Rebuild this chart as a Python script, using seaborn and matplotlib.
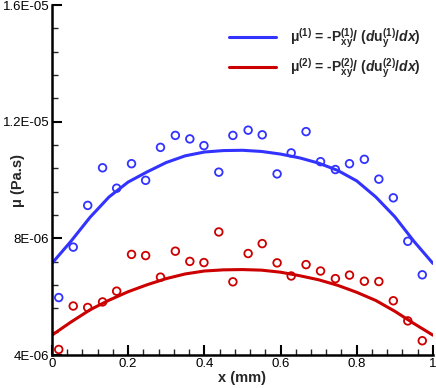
import pandas as pd
import seaborn as sns
import matplotlib.pyplot as plt
from matplotlib.ticker import MultipleLocator

# scatter data (viscosity in 1E-06 Pa.s)
x_pts = [0.018, 0.056, 0.094, 0.133, 0.170, 0.209, 0.246, 0.285, 0.324,
         0.362, 0.399, 0.438, 0.475, 0.515, 0.552, 0.591, 0.628, 0.667,
         0.705, 0.744, 0.781, 0.820, 0.858, 0.896, 0.934, 0.972]
mu1_pts = [5.97, 7.70, 9.13, 10.42, 9.72, 10.56, 9.99, 11.12, 11.53,
           11.41, 11.18, 10.27, 11.53, 11.71, 11.55, 10.21, 10.93, 11.66,
           10.63, 10.36, 10.56, 10.71, 10.03, 9.39, 7.90, 6.75]
mu2_pts = [4.19, 5.68, 5.63, 5.82, 6.19, 7.45, 7.41, 6.67, 7.56,
           7.21, 7.17, 8.22, 6.51, 7.48, 7.82, 7.16, 6.71, 7.10,
           6.88, 6.62, 6.74, 6.53, 6.52, 5.86, 5.17, 4.49]

# fitted curves
x_fit = [0.00, 0.05, 0.10, 0.15, 0.20, 0.25, 0.30, 0.35, 0.40, 0.45, 0.50,
         0.55, 0.60, 0.65, 0.70, 0.75, 0.80, 0.85, 0.90, 0.95, 1.00]
mu1_fit = [7.14, 7.90, 8.72, 9.42, 9.93, 10.28, 10.60, 10.83, 10.96, 11.01, 11.02,
           10.98, 10.89, 10.76, 10.58, 10.33, 9.97, 9.42, 8.74, 7.90, 7.14]
mu2_fit = [4.68, 5.13, 5.55, 5.88, 6.17, 6.41, 6.62, 6.78, 6.88, 6.92, 6.93,
           6.91, 6.84, 6.72, 6.58, 6.39, 6.15, 5.87, 5.50, 5.08, 4.68]

y_ticks = [4e-06, 8e-06, 1.2e-05, 1.6e-05]
y_tick_labels = ["4E-06", "8E-06", "1.2E-05", "1.6E-05"]
x_ticks = [0, 0.2, 0.4, 0.6, 0.8, 1.0]
x_tick_labels = ["0", "0.2", "0.4", "0.6", "0.8", "1"]

label1 = r"$\mathrm{\mu^{(1)}}$ = -P$_{\mathrm{xy}}^{\mathrm{(1)}}$/ ($\mathit{d}$u$_{\mathrm{y}}^{\mathrm{(1)}}$/$\mathit{dx}$)"
label2 = r"$\mathrm{\mu^{(2)}}$ = -P$_{\mathrm{xy}}^{\mathrm{(2)}}$/ ($\mathit{d}$u$_{\mathrm{y}}^{\mathrm{(2)}}$/$\mathit{dx}$)"

blue = "#3333ff"
red = "#cc0000"

pts = pd.DataFrame({"x": x_pts,
                    "mu1": [v * 1e-6 for v in mu1_pts],
                    "mu2": [v * 1e-6 for v in mu2_pts]})
fit = pd.DataFrame({"x": x_fit,
                    "mu1": [v * 1e-6 for v in mu1_fit],
                    "mu2": [v * 1e-6 for v in mu2_fit]})

sns.set_style("ticks")
plt.rcParams["font.family"] = ["Liberation Sans", "DejaVu Sans"]
plt.rcParams["mathtext.fontset"] = "custom"
plt.rcParams["mathtext.rm"] = "Liberation Sans:bold"
plt.rcParams["mathtext.it"] = "Liberation Sans:bold:italic"
plt.rcParams["mathtext.bf"] = "Liberation Sans:bold"

fig = plt.figure(figsize=(4.36, 3.88), dpi=100)
ax = fig.add_axes([0.119, 0.085, 0.874, 0.902])

sns.lineplot(data=fit, x="x", y="mu1", color=blue, lw=2.2, ax=ax, label=label1)
sns.lineplot(data=fit, x="x", y="mu2", color=red, lw=2.2, ax=ax, label=label2)
sns.scatterplot(data=pts, x="x", y="mu1", ax=ax, marker="o", s=30,
                facecolors="none", edgecolor=blue, linewidth=1.3)
sns.scatterplot(data=pts, x="x", y="mu2", ax=ax, marker="o", s=30,
                facecolors="none", edgecolor=red, linewidth=1.3)

ax.set_xlim(0, 1)
ax.set_ylim(4e-06, 1.6e-05)
ax.set_xticks(x_ticks)
ax.set_xticklabels(x_tick_labels)
ax.set_yticks(y_ticks)
ax.set_yticklabels(y_tick_labels)
ax.xaxis.set_minor_locator(MultipleLocator(0.04))
ax.yaxis.set_minor_locator(MultipleLocator(8e-07))
ax.tick_params(which="major", direction="in", length=7, width=1.5,
               labelsize=9.5, colors="black", pad=2)
ax.tick_params(which="minor", direction="in", length=4, width=1)
for s in ["top", "right"]:
    ax.spines[s].set_visible(False)
for s in ["left", "bottom"]:
    ax.spines[s].set_linewidth(1.8)
    ax.spines[s].set_color("black")

ax.set_xlabel("x (mm)", fontsize=10.5, fontweight="bold", labelpad=1)
ax.set_ylabel("\u03bc (Pa.s)", fontsize=10.5, fontweight="bold")
ax.yaxis.set_label_coords(-0.07, 0.5)

ax.legend(loc="upper right", bbox_to_anchor=(1.0, 0.975), frameon=False,
          prop={"size": 10, "weight": "bold"}, handlelength=3.4,
          handletextpad=1.0, labelspacing=0.45)

fig.savefig("out.png", dpi=100)
